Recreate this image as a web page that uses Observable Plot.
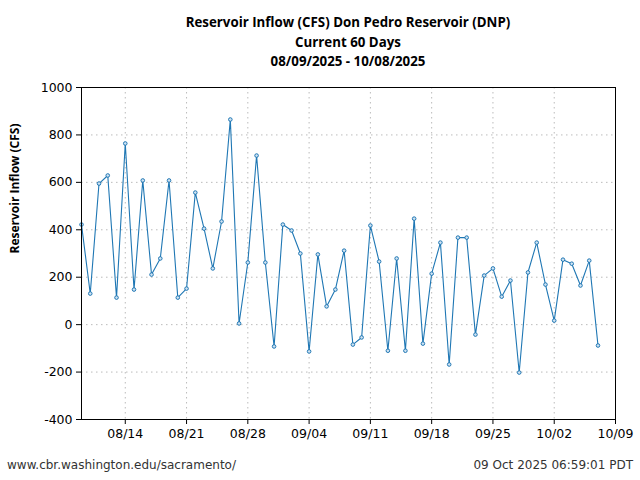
<!DOCTYPE html>
<html>
<head>
<meta charset="utf-8">
<script src="https://cdn.jsdelivr.net/npm/d3@7"></script>
<script src="https://cdn.jsdelivr.net/npm/@observablehq/plot@0.6"></script>
<style>
  body { margin: 0; background: #fff; }
  #wrap { position: relative; width: 640px; height: 480px; overflow: hidden; background: #fff; }
  #title { position: absolute; top: 13px; left: 81px; width: 534px; text-align: center;
    font-family: "Open Sans", sans-serif; font-weight: bold; font-size: 13.3px; line-height: 19.5px; color: #000; }
  #chart { position: absolute; top: 60px; left: 0; }
  .foot { position: absolute; top: 458px; font-family: "DejaVu Sans", sans-serif; font-size: 12px; color: #333; }
</style>
</head>
<body>
<div id="wrap">
  <div id="title">Reservoir Inflow (CFS) Don Pedro Reservoir (DNP)<br>Current 60 Days<br>08/09/2025 - 10/08/2025</div>
  <div id="chart"></div>
  <div class="foot" style="left:7px;">www.cbr.washington.edu/sacramento/</div>
  <div class="foot" style="right:7px;">09 Oct 2025 06:59:01 PDT</div>
</div>
<script>
const startDate = "2025-08-09";
const inflow = [422, 131, 595, 629, 114, 764, 148, 608, 211, 279,
  608, 114, 152, 557, 405, 237, 435, 865, 5, 262,
  713, 262, -92, 422, 397, 300, -113, 296, 77, 148,
  312, -84, -54, 418, 266, -110, 279, -110, 447, -80,
  215, 346, -168, 367, 367, -42, 207, 237, 118, 186,
  -202, 220, 346, 169, 17, 274, 257, 165, 270, -88];
const xTickLabels = ["08/14", "08/21", "08/28", "09/04", "09/11", "09/18", "09/25", "10/02", "10/09"];
const yTicks = [-400, -200, 0, 200, 400, 600, 800, 1000];

const parse = d3.utcParse("%Y-%m-%d");
const start = parse(startDate);
const data = inflow.map((v, i) => ({date: d3.utcDay.offset(start, i), value: v}));
const xTicks = xTickLabels.map(s => parse("2025-" + s.replace("/", "-")));

const blue = "#1f77b4";
const chart = Plot.plot({
  width: 640,
  height: 394,
  marginTop: 27,
  marginBottom: 35,
  marginLeft: 81,
  marginRight: 25,
  style: {fontFamily: "DejaVu Sans, sans-serif", fontSize: "12.5px", color: "#000", background: "transparent"},
  x: {type: "utc", domain: [parse("2025-08-09"), parse("2025-10-09")]},
  y: {domain: [-400, 1000]},
  marks: [
    Plot.gridX(xTicks, {stroke: "#bbb", strokeOpacity: 1, strokeDasharray: "1.5,3.5"}),
    Plot.gridY(yTicks, {stroke: "#bbb", strokeOpacity: 1, strokeDasharray: "1.5,3.5"}),
    Plot.axisX(xTicks, {tickFormat: d3.utcFormat("%m/%d"), tickSize: 5, tickPadding: 5, label: null, stroke: "#000"}),
    Plot.axisY(yTicks, {tickFormat: d => String(d), tickSize: 5, tickPadding: 4, label: null, stroke: "#000"}),
    Plot.text(["Reservoir Inflow (CFS)"], {frameAnchor: "left", rotate: -90, dx: -66, fontWeight: "bold",
      fontFamily: "Open Sans, sans-serif", fontSize: 12, fill: "#000"}),
    Plot.line(data, {x: "date", y: "value", stroke: blue, strokeWidth: 1.1}),
    Plot.dot(data, {x: "date", y: "value", r: 1.8, stroke: blue, fill: "#cfe3f3", strokeWidth: 1}),
    Plot.frame({stroke: "#000", strokeWidth: 1})
  ]
});
document.getElementById("chart").appendChild(chart);
</script>
</body>
</html>
